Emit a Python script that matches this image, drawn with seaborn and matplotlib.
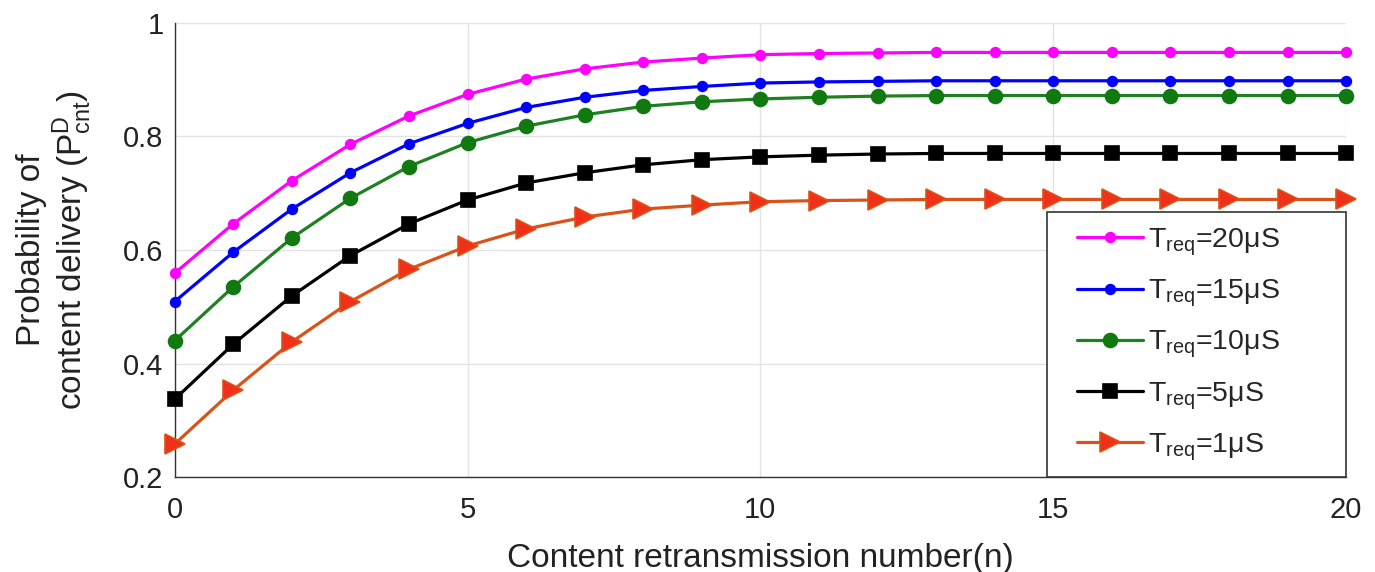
import numpy as np
import pandas as pd
import matplotlib
matplotlib.use("Agg")
import matplotlib.pyplot as plt
from matplotlib.lines import Line2D
from matplotlib.legend_handler import HandlerLine2D
import seaborn as sns

n_values = list(range(21))
p_20us = [0.559, 0.646, 0.722, 0.786, 0.836, 0.874, 0.901, 0.919, 0.931, 0.938, 0.944,
          0.946, 0.947, 0.948, 0.948, 0.948, 0.948, 0.948, 0.948, 0.948, 0.948]
p_15us = [0.509, 0.596, 0.672, 0.736, 0.787, 0.823, 0.851, 0.869, 0.881, 0.888, 0.894,
          0.896, 0.897, 0.898, 0.898, 0.898, 0.898, 0.898, 0.898, 0.898, 0.898]
p_10us = [0.440, 0.535, 0.621, 0.691, 0.747, 0.789, 0.818, 0.838, 0.853, 0.861, 0.866,
          0.869, 0.871, 0.872, 0.872, 0.872, 0.872, 0.872, 0.872, 0.872, 0.872]
p_5us = [0.337, 0.434, 0.519, 0.590, 0.646, 0.688, 0.718, 0.736, 0.750, 0.759, 0.764,
         0.767, 0.769, 0.770, 0.770, 0.770, 0.770, 0.770, 0.770, 0.770, 0.770]
p_1us = [0.258, 0.353, 0.438, 0.509, 0.566, 0.607, 0.637, 0.658, 0.672, 0.679, 0.685,
         0.687, 0.688, 0.689, 0.689, 0.689, 0.689, 0.689, 0.689, 0.689, 0.689]
labels = [r'T$_{\rm req}$=20μS', r'T$_{\rm req}$=15μS', r'T$_{\rm req}$=10μS',
          r'T$_{\rm req}$=5μS', r'T$_{\rm req}$=1μS']
x_ticks = [0, 5, 10, 15, 20]
y_ticks = [0.2, 0.4, 0.6, 0.8, 1.0]
y_ticklabels = ['0.2', '0.4', '0.6', '0.8', '1']

sns.set_theme(style="white")
plt.rcParams['font.family'] = ['Liberation Sans', 'DejaVu Sans']
plt.rcParams['mathtext.fontset'] = 'custom'
plt.rcParams['mathtext.rm'] = 'Liberation Sans'
plt.rcParams['mathtext.it'] = 'Liberation Sans:italic'

fig = plt.figure(figsize=(13.75, 5.72), dpi=100)
ax = fig.add_axes([0.127, 0.166, 0.852, 0.794])

series = [p_20us, p_15us, p_10us, p_5us, p_1us]
styles = [
    dict(color='#FF00FF', marker='o', markersize=7, markerfacecolor='#FF00FF', markeredgecolor='#FF00FF'),
    dict(color='#0000FF', marker='o', markersize=7, markerfacecolor='#0000FF', markeredgecolor='#0000FF'),
    dict(color='#1E8020', marker='o', markersize=10, markerfacecolor='#107A10', markeredgecolor='#107A10'),
    dict(color='#000000', marker='s', markersize=10, markerfacecolor='#000000', markeredgecolor='#000000'),
    dict(color='#D95319', marker='>', markersize=14, markerfacecolor='#F03018', markeredgecolor='#D95319'),
]
for vals, lab, st in zip(series, labels, styles):
    df = pd.DataFrame({'n': n_values, 'p': vals})
    sns.lineplot(data=df, x='n', y='p', ax=ax, label=lab, linewidth=2.3,
                 markeredgewidth=1.2, clip_on=False, zorder=3, **st)

ax.set_xlim(0, 20)
ax.set_ylim(0.2, 1.0)
ax.set_xticks(x_ticks)
ax.set_yticks(y_ticks)
ax.set_yticklabels(y_ticklabels)
ax.grid(True, color='#E3E3E3', linewidth=1.0)
ax.set_axisbelow(True)
for s in ['top', 'right']:
    ax.spines[s].set_visible(False)
for s in ['left', 'bottom']:
    ax.spines[s].set_color('#333333')
    ax.spines[s].set_linewidth(1.0)
ax.tick_params(axis='both', direction='in', length=6, width=1.0, color='#333333',
               labelsize=21, labelcolor='#222222')
ax.tick_params(axis='x', pad=14)
ax.tick_params(axis='y', pad=8)

ax.set_xlabel('Content retransmission number(n)', fontsize=24, color='#222222')
ax.xaxis.set_label_coords(0.5, -0.145)
ax.set_ylabel('Probability of\ncontent delivery (P$^{\\rm D}_{\\rm cnt}$)', fontsize=24,
              color='#222222', linespacing=1.1)
ax.yaxis.set_label_coords(-0.069, 0.5)

leg = ax.legend(loc='lower left', bbox_to_anchor=(0.745, 0.0, 0.255, 0.586), mode='expand',
                borderaxespad=0.0, frameon=True, fancybox=False,
                edgecolor='#333333', fontsize=20.5, handlelength=2.85, labelspacing=0.7,
                borderpad=0.5, handletextpad=0.2,
                handler_map={Line2D: HandlerLine2D(xpad=0.55)})
leg.get_frame().set_linewidth(1.2)
leg.get_frame().set_facecolor('white')
leg.get_frame().set_alpha(1)
leg.set_zorder(5)

fig.savefig('out.png', dpi=100)
